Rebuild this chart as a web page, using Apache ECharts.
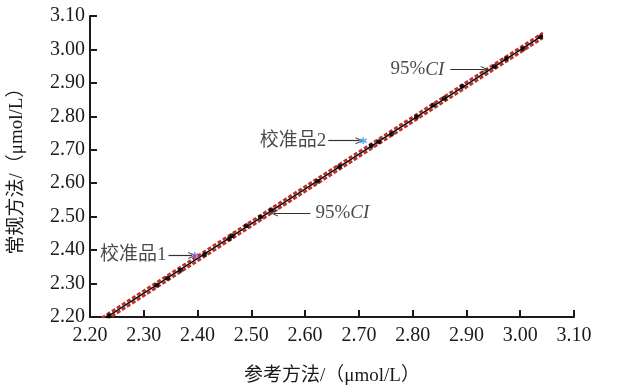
<!DOCTYPE html>
<html><head><meta charset="utf-8">
<script src="https://cdn.jsdelivr.net/npm/echarts@6/dist/echarts.min.js"></script>
<style>html,body{margin:0;padding:0;background:#fff}#c{width:617px;height:391px}</style>
</head><body><div id="c"></div>
<script>
// tick labels
const xTickLabels = ['2.20','2.30','2.40','2.50','2.60','2.70','2.80','2.90','3.00','3.10'];
const yTickLabels = ['2.20','2.30','2.40','2.50','2.60','2.70','2.80','2.90','3.00','3.10'];
// sample points: reference method (x) vs routine method (y)
const refX = [2.235,2.324,2.344,2.368,2.413,2.459,2.464,2.491,2.517,2.537,2.623,2.664,2.723,2.737,2.761,2.807,2.838,2.859,2.892,2.952,2.974,3.005,3.038];
const routineY = [2.204,2.295,2.316,2.340,2.387,2.434,2.443,2.473,2.499,2.520,2.606,2.650,2.712,2.724,2.748,2.798,2.834,2.854,2.890,2.949,2.973,3.002,3.038];
// regression line endpoints and 95% CI half-width
const fitX = [2.222, 3.042];
const fitY = [2.190, 3.042];
const ciHalf = 0.0075;
// calibrators
const calib1 = [2.395, 2.384];
const calib2 = [2.708, 2.727];
// annotation arrows: [start, end]
const arrowCalib1 = [[2.346, 2.384], [2.390, 2.384]];
const arrowCalib2 = [[2.643, 2.727], [2.701, 2.727]];
const arrowCIlow = [[2.610, 2.511], [2.542, 2.511]];
const arrowCIup = [[2.870, 2.940], [2.934, 2.940]];

const serif = "'Liberation Serif','Times New Roman','Noto Sans CJK SC',serif";
const txt = '#1a1a1a';
const chevron = 'path://M5,0 L10,10 L8.6,10 L5,2.8 L1.4,10 L0,10 Z';
const asterisk = 'path://M0,-1 L0,1 M-0.87,-0.5 L0.87,0.5 M-0.87,0.5 L0.87,-0.5';

const fitData = fitX.map((x,i)=>[x, fitY[i]]);
const upData = fitX.map((x,i)=>[x, fitY[i]+ciHalf]);
const loData = fitX.map((x,i)=>[x, fitY[i]-ciHalf]);
const pts = refX.map((x,i)=>[x, routineY[i]]);

function arrow(a){ return [{coord:a[0], symbol:'none'}, {coord:a[1], symbol:chevron, symbolSize:[7,8]}]; }

const chart = echarts.init(document.getElementById('c'), null, {renderer:'canvas'});
const axisCommon = {
  type:'value', min:+xTickLabels[0], max:+xTickLabels[xTickLabels.length-1], interval:0.1,
  axisLine:{show:true, lineStyle:{color:txt, width:2}},
  axisTick:{show:true, inside:true, length:7, lineStyle:{color:txt, width:2}},
  splitLine:{show:false},
  nameLocation:'middle',
  nameTextStyle:{fontFamily:serif, fontSize:19, color:txt},
};
chart.setOption({
  animation:false,
  backgroundColor:'#fff',
  grid:{left:80, right:43, top:16, bottom:70},
  xAxis:Object.assign({}, axisCommon, {
    name:'参考方法/（μmol/L）', nameGap:50,
    axisLabel:{fontFamily:serif, fontSize:20, color:txt, margin:9, formatter:v=>xTickLabels[Math.round((v-2.2)*10)]}
  }),
  yAxis:Object.assign({}, axisCommon, {
    min:+yTickLabels[0], max:+yTickLabels[yTickLabels.length-1],
    name:'常规方法/（μmol/L）', nameGap:63,
    axisLabel:{fontFamily:serif, fontSize:20, color:txt, margin:5, formatter:v=>yTickLabels[Math.round((v-2.2)*10)]}
  }),
  series:[
    {type:'line', data:upData, symbol:'none', lineStyle:{color:'#c0302a', width:2.6, type:[4,2]}, z:2},
    {type:'line', data:loData, symbol:'none', lineStyle:{color:'#c0302a', width:2.6, type:[4,2]}, z:2},
    {type:'line', data:fitData, symbol:'none', lineStyle:{color:'#000', width:1.4}, z:3},
    {type:'scatter', data:pts, symbol:'circle', symbolSize:5, itemStyle:{color:'#000'}, z:4},
    {type:'scatter', data:[calib1], symbol:asterisk, symbolSize:7, itemStyle:{color:'#8a5cc8', borderColor:'#8a5cc8', borderWidth:1.5}, z:5},
    {type:'scatter', data:[calib2], symbol:asterisk, symbolSize:7, itemStyle:{color:'#2aa0e0', borderColor:'#2aa0e0', borderWidth:1.5}, z:5},
    {type:'scatter', symbolSize:0, z:6, silent:true,
      data:[
        {value:arrowCalib1[0], label:{show:true, position:'left', distance:2, formatter:'校准品1'}},
        {value:arrowCalib2[0], label:{show:true, position:'left', distance:2, formatter:'校准品2'}},
        {value:arrowCIlow[0], label:{show:true, position:'right', distance:5, formatter:'{n|95%}{i|CI}'}},
        {value:arrowCIup[0], label:{show:true, position:'left', distance:6, formatter:'{n|95%}{i|CI}'}}
      ],
      label:{fontFamily:serif, fontSize:19, color:txt,
        rich:{n:{fontFamily:serif, fontSize:19, color:txt}, i:{fontFamily:serif, fontSize:19, color:txt, fontStyle:'italic'}}},
      markLine:{silent:true, symbol:['none','none'], label:{show:false},
        lineStyle:{color:'#333', width:1.2, type:'solid'},
        data:[arrow(arrowCalib1), arrow(arrowCalib2), arrow(arrowCIlow), arrow(arrowCIup)]}
    }
  ]
});
</script></body></html>
